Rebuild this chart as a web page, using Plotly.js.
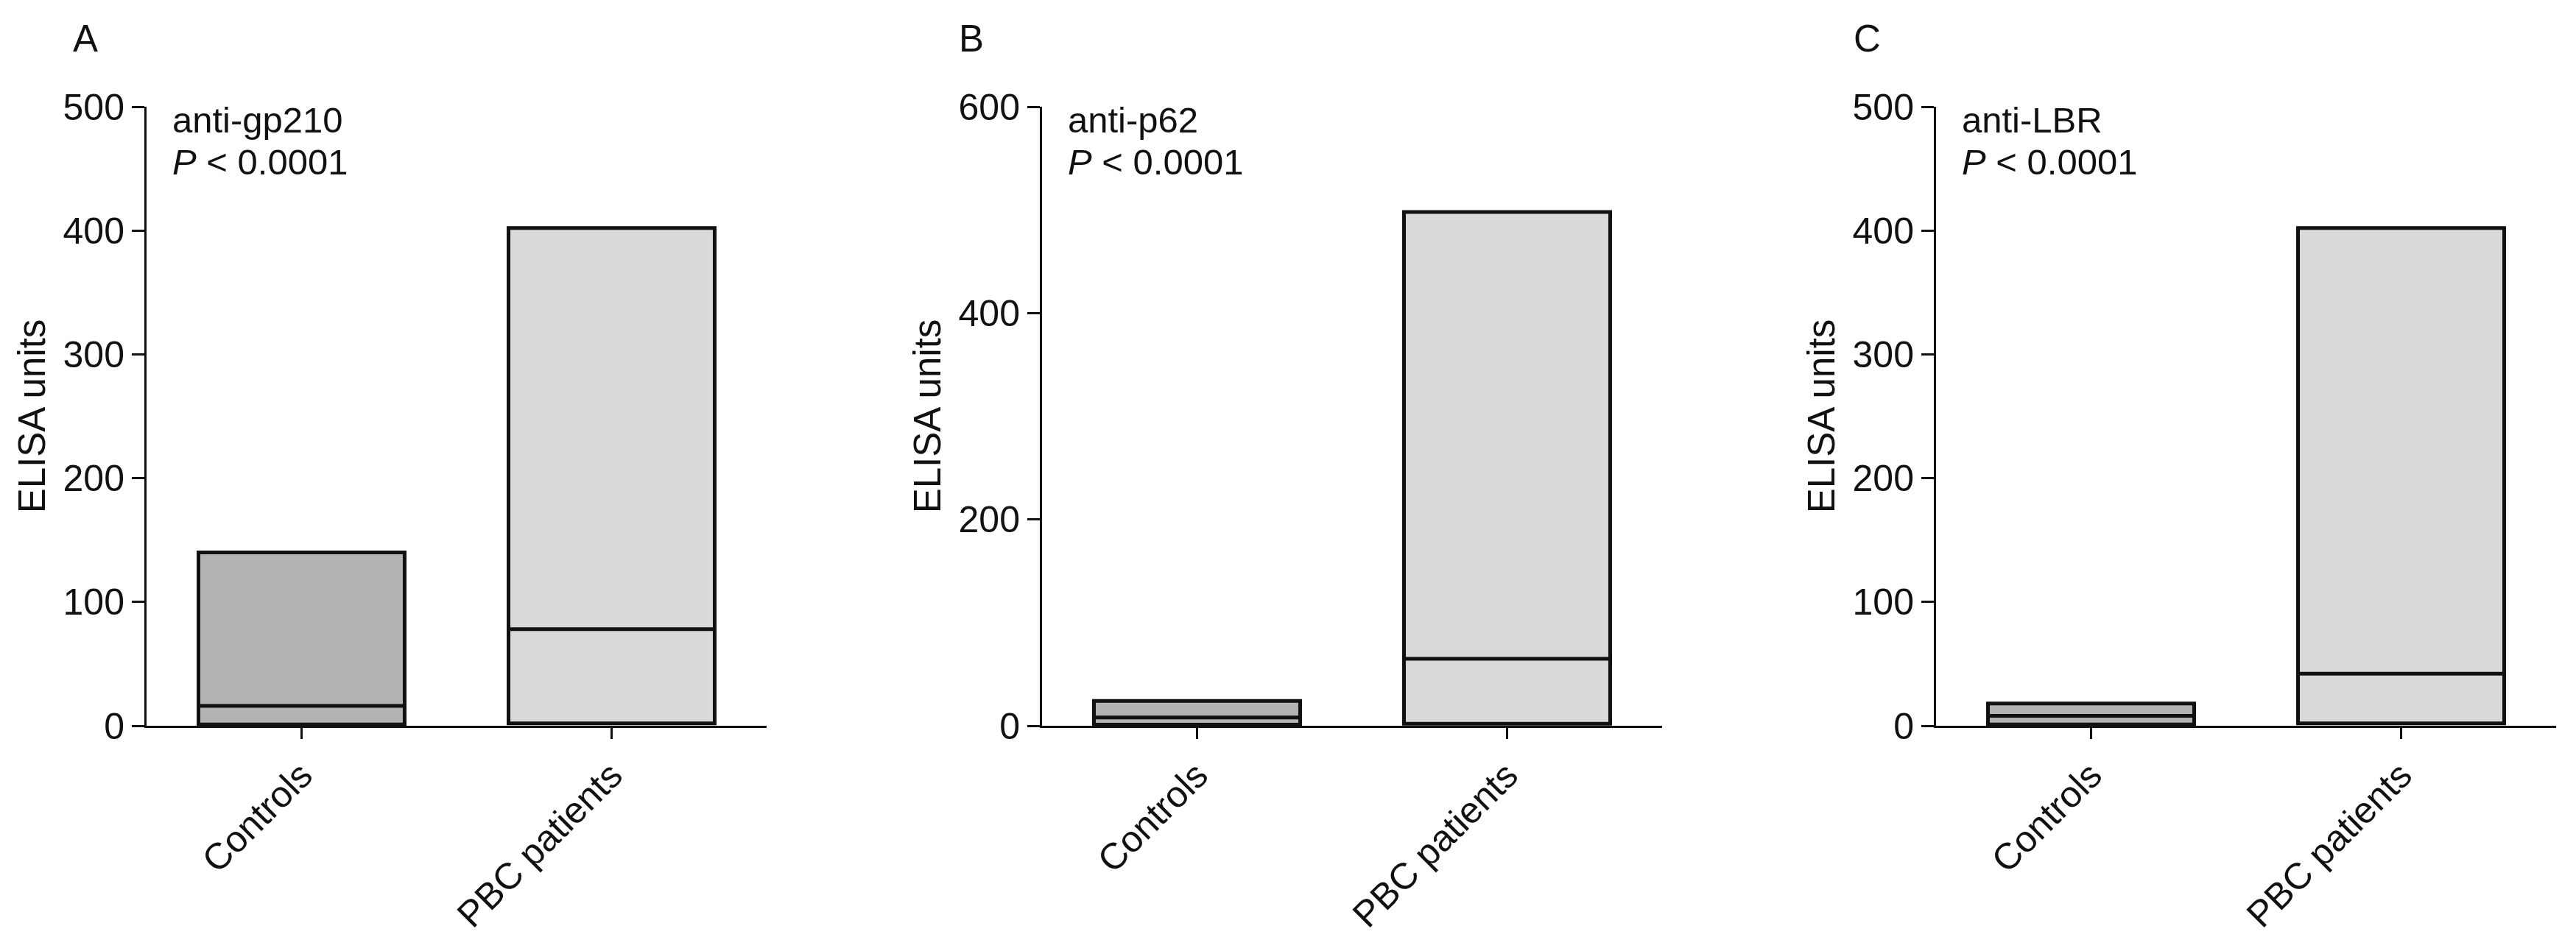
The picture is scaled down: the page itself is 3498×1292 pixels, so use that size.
<!DOCTYPE html>
<html>
<head>
<meta charset="utf-8">
<script src="https://cdn.plot.ly/plotly-3.0.1.min.js"></script>
<style>
  html, body { margin: 0; padding: 0; background: #ffffff; }
  #chart { width: 3498px; height: 1292px; }
</style>
</head>
<body>
<div id="chart"></div>
<script>
// ---- data ----
const categories = ['Controls', 'PBC patients'];
const panelLetters = ['A', 'B', 'C'];
const antigens = ['anti-gp210', 'anti-p62', 'anti-LBR'];
const pLabel = '<i>P</i> &lt; 0.0001';
const yTitle = 'ELISA units';

// floating boxes: min – max with median line, one value per panel (A, B, C)
const controlsMin    = [1, 1, 1];
const controlsMedian = [16, 8, 8];
const controlsMax    = [140, 24, 18];
const pbcMin         = [2, 2, 2];
const pbcMedian      = [78, 65, 42];
const pbcMax         = [402, 498, 402];

// axis scales
const yAxisMax  = [500, 600, 500];
const yAxisStep = [100, 200, 100];

// ---- styling / layout ----
const FONT = 'Liberation Sans, Arial, Helvetica, sans-serif';
const W = 3498, H = 1292;
const axisLeftPx = [199, 1415, 2629];
const plotWidthPx = 842;
const plotTopPx = 145, plotBottomPx = 986;
const controlsFill = '#b3b3b3';
const pbcFill = '#d9d9d9';

const traces = [];
const layout = {
  width: W, height: H,
  margin: {l: 0, r: 0, t: 0, b: 0, pad: 0},
  paper_bgcolor: '#ffffff',
  plot_bgcolor: 'rgba(0,0,0,0)',
  showlegend: false,
  boxmode: 'overlay',
  font: {family: FONT, color: '#111111', size: 50},
  annotations: []
};

for (let i = 0; i < 3; i++) {
  const sx = i === 0 ? '' : String(i + 1);
  const xa = 'x' + sx, ya = 'y' + sx;

  const groups = [
    {name: categories[0], lo: controlsMin[i], med: controlsMedian[i], hi: controlsMax[i], fill: controlsFill},
    {name: categories[1], lo: pbcMin[i], med: pbcMedian[i], hi: pbcMax[i], fill: pbcFill}
  ];
  groups.forEach(g => {
    traces.push({
      type: 'box',
      x: [g.name],
      q1: [g.lo], median: [g.med], q3: [g.hi],
      lowerfence: [g.lo], upperfence: [g.hi],
      width: 0.665,
      whiskerwidth: 0,
      boxpoints: false,
      fillcolor: g.fill,
      line: {color: '#111111', width: 5},
      hoverinfo: 'skip',
      xaxis: xa, yaxis: ya
    });
  });

  const x0 = axisLeftPx[i] / W, x1 = (axisLeftPx[i] + plotWidthPx) / W;
  layout['xaxis' + sx] = {
    domain: [x0, x1],
    anchor: ya,
    type: 'category',
    categoryorder: 'array',
    categoryarray: categories,
    range: [-0.5, 1.5],
    showline: true, linecolor: '#111111', linewidth: 3,
    ticks: 'outside', ticklen: 15, tickwidth: 3, tickcolor: '#111111',
    tickangle: -45,
    tickfont: {family: FONT, size: 50, color: '#111111'},
    showgrid: false, zeroline: false, fixedrange: true
  };
  layout['yaxis' + sx] = {
    domain: [1 - plotBottomPx / H, 1 - plotTopPx / H],
    anchor: xa,
    range: [0, yAxisMax[i]],
    tick0: 0, dtick: yAxisStep[i],
    showline: true, linecolor: '#111111', linewidth: 3,
    ticks: 'outside', ticklen: 17, tickwidth: 3, tickcolor: '#111111',
    tickfont: {family: FONT, size: 50, color: '#111111'},
    showgrid: false, zeroline: false, fixedrange: true,
    title: {text: yTitle, font: {family: FONT, size: 51, color: '#111111'}, standoff: 8}
  };

  // panel letter
  const letterX = [116, 1319, 2535][i];
  layout.annotations.push({
    xref: 'paper', yref: 'paper',
    x: letterX / W, y: 1 - 52 / H,
    xanchor: 'center', yanchor: 'middle',
    text: panelLetters[i], showarrow: false,
    font: {family: FONT, size: 51, color: '#111111'}
  });
  // antigen name and P value
  const textLeft = axisLeftPx[i] + 33;
  layout.annotations.push({
    xref: 'paper', yref: 'paper',
    x: textLeft / W, y: 1 - 163 / H,
    xanchor: 'left', yanchor: 'middle',
    text: antigens[i], showarrow: false,
    font: {family: FONT, size: 49, color: '#111111'}
  });
  layout.annotations.push({
    xref: 'paper', yref: 'paper',
    x: textLeft / W, y: 1 - 220 / H,
    xanchor: 'left', yanchor: 'middle',
    text: pLabel, showarrow: false,
    font: {family: FONT, size: 49, color: '#111111'}
  });
}

Plotly.newPlot('chart', traces, layout, {displayModeBar: false, staticPlot: true});
</script>
</body>
</html>
